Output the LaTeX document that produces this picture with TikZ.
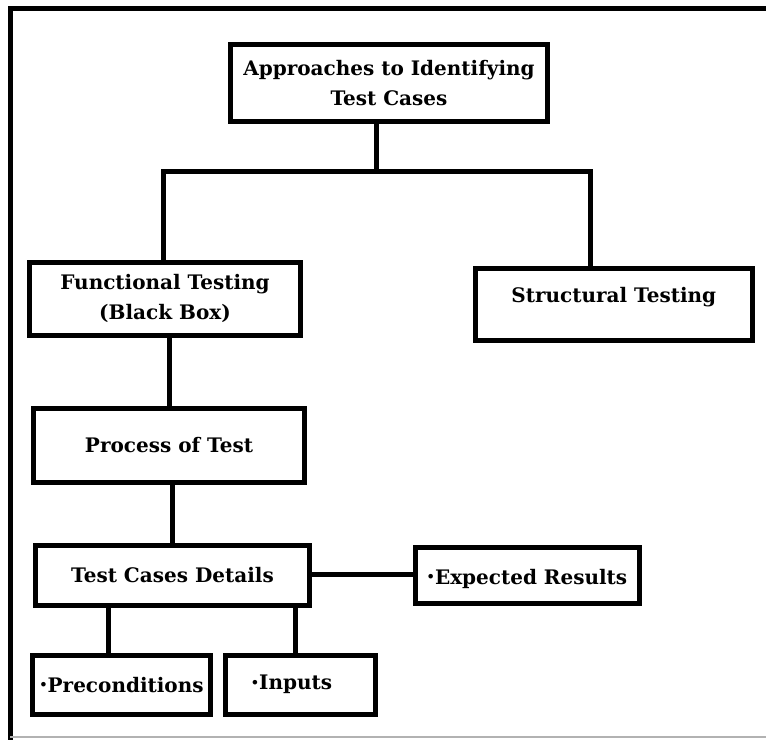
\documentclass[tikz,border=0pt]{standalone}
\usepackage{fontspec}
\setmainfont{DejaVu Serif}
\newcommand{\smallbul}{\raisebox{2.5pt}{\fontsize{13}{13}\selectfont •}}
\begin{document}
\begin{tikzpicture}[x=1pt,y=-1pt,
  box/.style={draw=black, line width=5pt, inner sep=0pt, align=center,
    font=\bfseries\fontsize{20}{30}\selectfont},
  conn/.style={draw=black, line width=5pt}]
\useasboundingbox (0,0) rectangle (766,740);
% frame
\draw[black, line width=5pt] (8,8.5) -- (766,8.5);
\draw[black, line width=5pt] (10.5,6) -- (10.5,740);
\draw[gray!60, line width=1.5pt] (10,737) -- (766,737);
% boxes
\node[box, minimum width=317pt, minimum height=77pt] (top) at (389,83)
  {Approaches to Identifying\\Test Cases};
\node[box, minimum width=271pt, minimum height=72.5pt] (func) at (165,298.75)
  {Functional Testing\\(Black Box)};
\node[box, minimum width=277.5pt, minimum height=72pt] (struct) at (613.75,304.5)
  {Structural Testing\rule[-19pt]{0pt}{0pt}};
\node[box, minimum width=271pt, minimum height=73.5pt] (proc) at (169,445.25)
  {Process of Test};
\node[box, minimum width=274pt, minimum height=60pt] (tcd) at (172.5,575)
  {Test Cases Details};
\node[box, minimum width=224pt, minimum height=56pt] (exp) at (527,575.5)
  {\rule{0pt}{22pt}\smallbul Expected Results};
\node[box, minimum width=178pt, minimum height=59.5pt] (pre) at (121.5,684.75)
  {\smallbul Preconditions};
\node[box, minimum width=150pt, minimum height=59.5pt] (inp) at (300.5,684.75)
  {\hspace*{-18pt}\smallbul Inputs};
% junctions
\coordinate (j1) at (376,171.5);
\coordinate (jl) at (163,171.5);
\coordinate (jr) at (590.5,171.5);
\coordinate (c2) at (169.5,0);
\coordinate (c3) at (172,0);
\coordinate (c4) at (0,574);
\coordinate (c5) at (108,0);
\coordinate (c6) at (295.5,0);
% connectors
\draw[conn] (top.south -| j1) -- (j1);
\draw[conn] (func.north -| jl) -- (jl) -- (jr) -- (struct.north -| jr);
\draw[conn] (func.south -| c2) -- (proc.north -| c2);
\draw[conn] (proc.south -| c3) -- (tcd.north -| c3);
\draw[conn] (tcd.east |- c4) -- (exp.west |- c4);
\draw[conn] (tcd.south -| c5) -- (pre.north -| c5);
\draw[conn] (tcd.south -| c6) -- (inp.north -| c6);
\end{tikzpicture}
\end{document}
